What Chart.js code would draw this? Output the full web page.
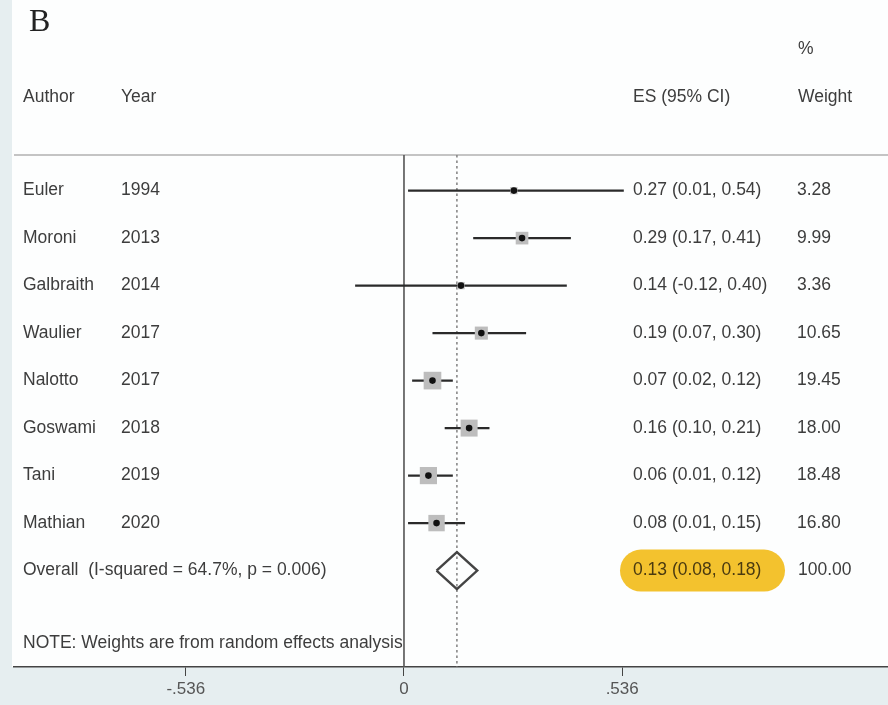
<!DOCTYPE html>
<html lang="en">
<head>
    <meta charset="UTF-8"/>
    <title>Forest plot B</title>
    <script src="https://cdn.jsdelivr.net/npm/chart.js"></script>
    <style>
        html, body {
            margin: 0;
            padding: 0;
            background: #e6eef0;
        }

        #forest {
            display: block;
        }
    </style>
</head>
<body>
<canvas id="forest" width="888" height="705"></canvas>

<script>
    // study data
    const authors = ['Euler', 'Moroni', 'Galbraith', 'Waulier', 'Nalotto', 'Goswami', 'Tani', 'Mathian'];
    const years = ['1994', '2013', '2014', '2017', '2017', '2018', '2019', '2020'];
    const es = [0.27, 0.29, 0.14, 0.19, 0.07, 0.16, 0.06, 0.08];
    const ciLow = [0.01, 0.17, -0.12, 0.07, 0.02, 0.10, 0.01, 0.01];
    const ciHigh = [0.54, 0.41, 0.40, 0.30, 0.12, 0.21, 0.12, 0.15];
    const weights = [3.28, 9.99, 3.36, 10.65, 19.45, 18.00, 18.48, 16.80];

    const overallEs = 0.13;
    const overallLow = 0.08;
    const overallHigh = 0.18;
    const overallWeight = 100.00;
    const overallLabel = 'Overall  (I-squared = 64.7%, p = 0.006)';
    const noteText = 'NOTE: Weights are from random effects analysis';

    const tickValues = [-0.536, 0, 0.536];
    const tickLabels = ['-.536', '0', '.536'];

    const Y_MIN = -0.75, Y_MAX = 10.03;
    const overallRow = authors.length;
    const FONT = '17.5px "Liberation Sans", Arial, sans-serif';
    const TEXT = '#3d3d3d';

    const fmt = v => v.toFixed(2);
    const esLabel = (e, l, h) => `${fmt(e)} (${fmt(l)}, ${fmt(h)})`;

    // one line per confidence interval
    const ciSets = authors.map((a, i) => ({
        label: a + ' CI',
        data: [{x: ciLow[i], y: i}, {x: ciHigh[i], y: i}],
        showLine: true,
        borderColor: '#2a2a2a',
        borderWidth: 2.4,
        pointRadius: 0
    }));

    const tablePlugin = {
        id: 'table',
        beforeDraw(chart) {
            const {ctx, chartArea} = chart;
            ctx.save();
            ctx.fillStyle = '#e6eef0';
            ctx.fillRect(0, 0, chart.width, chart.height);
            ctx.fillStyle = '#fdfefe';
            ctx.fillRect(12, 0, chart.width - 12, chartArea.bottom);
            ctx.restore();
        },
        beforeDatasetsDraw(chart) {
            const {ctx, chartArea, scales} = chart;
            const y = scales.y;
            ctx.save();

            // header rule
            ctx.strokeStyle = '#b0b0b0';
            ctx.lineWidth = 1.5;
            ctx.beginPath();
            ctx.moveTo(chartArea.left, chartArea.top);
            ctx.lineTo(chartArea.right, chartArea.top);
            ctx.stroke();

            // panel letter
            ctx.fillStyle = '#222';
            ctx.font = '32px "Liberation Serif", "Times New Roman", serif';
            ctx.textBaseline = 'middle';
            ctx.fillText('B', 29, 23);

            ctx.font = FONT;
            ctx.fillStyle = TEXT;
            ctx.fillText('Author', 23, 97);
            ctx.fillText('Year', 121, 97);
            ctx.fillText('ES (95% CI)', 633, 97);
            ctx.fillText('%', 798, 49);
            ctx.fillText('Weight', 798, 97);

            authors.forEach((a, i) => {
                const py = y.getPixelForValue(i);
                ctx.fillText(a, 23, py);
                ctx.fillText(years[i], 121, py);
                ctx.fillText(esLabel(es[i], ciLow[i], ciHigh[i]), 633, py);
                ctx.fillText(fmt(weights[i]), 797, py);
            });

            // overall row with highlighted estimate
            const oy = y.getPixelForValue(overallRow);
            ctx.fillText(overallLabel, 23, oy);
            ctx.fillStyle = '#f3c22e';
            ctx.beginPath();
            ctx.roundRect(620, oy - 21, 165, 42, 21);
            ctx.fill();
            ctx.fillStyle = '#4a3a10';
            ctx.fillText(esLabel(overallEs, overallLow, overallHigh), 633, oy);
            ctx.fillStyle = TEXT;
            ctx.fillText(fmt(overallWeight), 798, oy);

            ctx.fillText(noteText, 23, 643);
            ctx.restore();
        }
    };

    new Chart(document.getElementById('forest'), {
        type: 'scatter',
        data: {
            datasets: [
                {
                    label: 'ES',
                    data: es.map((e, i) => ({x: e, y: i})),
                    pointStyle: 'circle',
                    pointRadius: 3.3,
                    backgroundColor: '#111',
                    borderWidth: 0
                },
                {
                    label: 'Weight box',
                    data: es.map((e, i) => ({x: e, y: i})),
                    pointStyle: 'rect',
                    pointRadius: ctx => 4 * Math.sqrt(weights[ctx.dataIndex]) / Math.SQRT2,
                    backgroundColor: '#bdbdbd',
                    borderWidth: 0
                },
                ...ciSets,
                {
                    label: 'Overall',
                    data: [
                        {x: overallLow, y: overallRow},
                        {x: overallEs, y: overallRow - 0.39},
                        {x: overallHigh, y: overallRow},
                        {x: overallEs, y: overallRow + 0.39},
                        {x: overallLow, y: overallRow}
                    ],
                    showLine: true,
                    borderColor: '#444',
                    borderWidth: 2.4,
                    pointRadius: 0
                },
                {
                    label: 'Overall line',
                    data: [{x: overallEs, y: Y_MIN}, {x: overallEs, y: Y_MAX}],
                    showLine: true,
                    borderColor: '#888',
                    borderWidth: 1.6,
                    borderDash: [2.5, 3],
                    pointRadius: 0
                },
                {
                    label: 'No effect',
                    data: [{x: 0, y: Y_MIN}, {x: 0, y: Y_MAX}],
                    showLine: true,
                    borderColor: '#555',
                    borderWidth: 1.6,
                    pointRadius: 0
                }
            ]
        },
        options: {
            responsive: false,
            animation: false,
            layout: {
                autoPadding: false,
                padding: {left: 14, right: 0, top: 155, bottom: 0}
            },
            plugins: {
                legend: {display: false},
                tooltip: {enabled: false}
            },
            scales: {
                x: {
                    type: 'linear',
                    min: -0.958,
                    max: 1.189,
                    afterBuildTicks: scale => {
                        scale.ticks = tickValues.map(v => ({value: v}));
                    },
                    afterFit: scale => {
                        scale.height = 38;
                        scale.paddingLeft = 0;
                        scale.paddingRight = 0;
                    },
                    ticks: {
                        autoSkip: false,
                        maxRotation: 0,
                        padding: 3,
                        color: '#555',
                        font: {family: '"Liberation Sans", Arial, sans-serif', size: 17},
                        callback: v => tickLabels[tickValues.indexOf(v)]
                    },
                    grid: {
                        drawOnChartArea: false,
                        drawTicks: true,
                        tickLength: 9,
                        color: '#444'
                    },
                    border: {display: true, color: '#444', width: 1.5}
                },
                y: {
                    type: 'linear',
                    display: false,
                    reverse: true,
                    min: Y_MIN,
                    max: Y_MAX
                }
            }
        },
        plugins: [tablePlugin]
    });
</script>
</body>
</html>
